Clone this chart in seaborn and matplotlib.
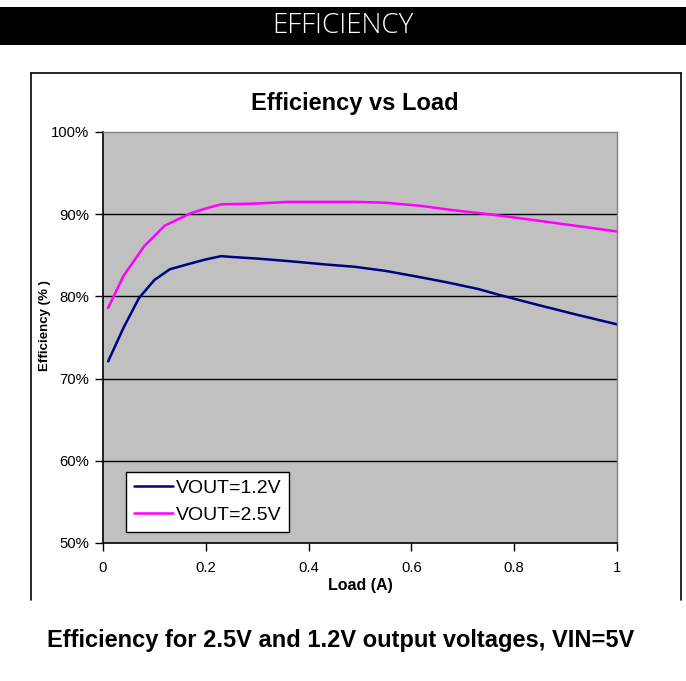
import numpy as np
import pandas as pd
import matplotlib
matplotlib.use("Agg")
import matplotlib.pyplot as plt
import seaborn as sns
from matplotlib.lines import Line2D
from matplotlib.patches import Rectangle

# ---- data ----
load_12 = [0.01, 0.04, 0.07, 0.10, 0.13, 0.17, 0.20, 0.23, 0.25, 0.30, 0.36, 0.43, 0.49, 0.55, 0.62, 0.67, 0.73, 0.77, 0.85, 0.92, 1.00]
eff_12  = [72.1, 76.2, 79.8, 82.0, 83.3, 84.0, 84.5, 84.9, 84.8, 84.6, 84.3, 83.9, 83.6, 83.1, 82.3, 81.7, 80.9, 80.2, 78.9, 77.8, 76.6]
load_25 = [0.01, 0.04, 0.08, 0.12, 0.17, 0.20, 0.23, 0.30, 0.36, 0.43, 0.49, 0.55, 0.62, 0.68, 0.75, 0.80, 0.86, 0.93, 1.00]
eff_25  = [78.6, 82.5, 86.1, 88.6, 90.1, 90.7, 91.2, 91.3, 91.5, 91.5, 91.5, 91.4, 91.0, 90.5, 90.0, 89.6, 89.1, 88.5, 87.9]
series_names = ["VOUT=1.2V", "VOUT=2.5V"]
series_colors = ["#000080", "#FF00FF"]
x_ticks = [0, 0.2, 0.4, 0.6, 0.8, 1]
x_ticklabels = ["0", "0.2", "0.4", "0.6", "0.8", "1"]
y_ticks = [50, 60, 70, 80, 90, 100]
y_ticklabels = ["50%", "60%", "70%", "80%", "90%", "100%"]

df = pd.concat([
    pd.DataFrame({"Load": load_12, "Eff": eff_12, "Series": series_names[0]}),
    pd.DataFrame({"Load": load_25, "Eff": eff_25, "Series": series_names[1]}),
], ignore_index=True)

sns.set_theme(style="white")
plt.rcParams["font.family"] = ["Liberation Sans", "DejaVu Sans"]
plt.rcParams["text.color"] = "black"
plt.rcParams["axes.labelcolor"] = "black"
plt.rcParams["xtick.color"] = "black"
plt.rcParams["ytick.color"] = "black"

W, H = 686, 681
fig = plt.figure(figsize=(W / 100, H / 100), dpi=100)

# top banner
fig.patches.append(Rectangle((0, 1 - 45 / H), 1, 38 / H, transform=fig.transFigure,
                             facecolor="black", edgecolor="none", zorder=0))
fig.text(343 / W, 1 - 26 / H, "EFFICIENCY", color="white", fontsize=20,
         ha="center", va="center", family=["Open Sans", "DejaVu Sans"], fontweight="light")

# outer chart frame (left, top, right)
fx0, fx1 = 31 / W, 681 / W
fy0, fy1 = 1 - 600 / H, 1 - 73 / H
for xs, ys in [((fx0, fx0), (fy0, fy1)), ((fx0, fx1), (fy1, fy1)), ((fx1, fx1), (fy0, fy1))]:
    fig.add_artist(Line2D(xs, ys, transform=fig.transFigure, color="black", lw=1.2))

ax = fig.add_axes([103 / W, 1 - 543 / H, (617 - 103) / W, (543 - 132) / H])
ax.set_facecolor("#C0C0C0")

sns.lineplot(data=df, x="Load", y="Eff", hue="Series", palette=series_colors,
             hue_order=series_names, linewidth=1.8, ax=ax, sort=False, legend=True)

ax.set_xlim(0, 1)
ax.set_ylim(50, 100)
ax.set_xticks(x_ticks)
ax.set_xticklabels(x_ticklabels)
ax.set_yticks(y_ticks)
ax.set_yticklabels(y_ticklabels)
for yv in y_ticks[1:-1]:
    ax.axhline(yv, color="black", lw=1.0, zorder=1)

ax.tick_params(axis="both", which="both", direction="out", length=6, width=1,
               color="black", labelsize=10.7, labelcolor="black",
               bottom=True, left=True)
ax.tick_params(axis="x", pad=7)
ax.tick_params(axis="y", pad=4)
for s in ["left", "bottom"]:
    ax.spines[s].set_color("black")
    ax.spines[s].set_linewidth(1.2)
for s in ["right", "top"]:
    ax.spines[s].set_color("#808080")
    ax.spines[s].set_linewidth(1.0)

ax.set_title("Efficiency vs Load", fontsize=17, fontweight="bold", pad=16, x=0.49,
             color="black")
ax.set_xlabel("Load (A)", fontsize=11.5, fontweight="bold", labelpad=2)
ax.set_ylabel("Efficiency (% )", fontsize=9.5, fontweight="bold", labelpad=2)
ax.yaxis.set_label_coords(-0.101, 0.53)

leg = ax.legend(loc="lower left", bbox_to_anchor=(23 / 514, 11 / 411), fontsize=14,
                frameon=True, fancybox=False, handlelength=2.0, handletextpad=0.15,
                borderpad=0.4, labelspacing=0.5, borderaxespad=0)
leg.get_frame().set_facecolor("white")
leg.get_frame().set_edgecolor("black")
leg.get_frame().set_linewidth(1.0)
leg.get_frame().set_alpha(1)
for t in leg.get_texts():
    t.set_color("black")

fig.text(341 / W, 1 - 641 / H, "Efficiency for 2.5V and 1.2V output voltages, VIN=5V",
         fontsize=17, fontweight="bold", ha="center", va="center", color="black")

fig.savefig("out.png", dpi=100)
